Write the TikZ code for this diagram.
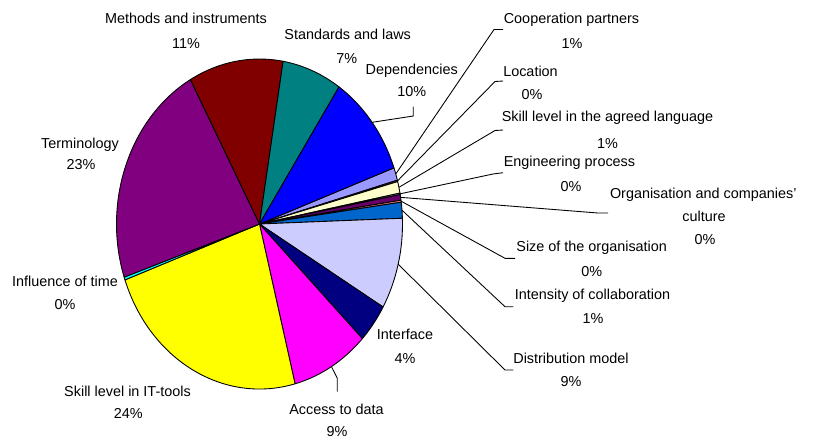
\documentclass[tikz,border=0pt]{standalone}
\usepackage{fontspec}
\setmainfont{Liberation Sans}
\definecolor{cpart}{HTML}{9999FF}
\definecolor{locat}{HTML}{993366}
\definecolor{lang}{HTML}{FFFFCC}
\definecolor{engin}{HTML}{CCFFFF}
\definecolor{cult}{HTML}{660066}
\definecolor{orgsize}{HTML}{FF8080}
\definecolor{inten}{HTML}{0066CC}
\definecolor{distr}{HTML}{CCCCFF}
\definecolor{iface}{HTML}{000080}
\definecolor{access}{HTML}{FF00FF}
\definecolor{ittools}{HTML}{FFFF00}
\definecolor{infl}{HTML}{00FFFF}
\definecolor{termin}{HTML}{800080}
\definecolor{methods}{HTML}{800000}
\definecolor{stand}{HTML}{008080}
\definecolor{depend}{HTML}{0000FF}
\begin{document}
\begin{tikzpicture}[x=0.02cm, y=-0.02cm,
    slice/.style={draw=black, line width=0.5pt, line join=round},
    leader/.style={draw=black, line width=0.5pt},
    lbl/.style={anchor=base, inner sep=0pt, font=\fontsize{8.2}{10}\selectfont}]
    \useasboundingbox (0,0) rectangle (814,441);
    % pie, slices clockwise from the first series
    \begin{scope}[shift={(259.5,224)}, yscale=-1]
        \filldraw[slice, fill=cpart] (0,0) -- (19.9:143 and 165) arc[start angle=19.9, end angle=15.4, x radius=143, y radius=165] -- cycle;
        \filldraw[slice, fill=locat] (0,0) -- (15.4:143 and 165) arc[start angle=15.4, end angle=14.9, x radius=143, y radius=165] -- cycle;
        \filldraw[slice, fill=lang] (0,0) -- (14.9:143 and 165) arc[start angle=14.9, end angle=10.8, x radius=143, y radius=165] -- cycle;
        \filldraw[slice, fill=engin] (0,0) -- (10.8:143 and 165) arc[start angle=10.8, end angle=10.3, x radius=143, y radius=165] -- cycle;
        \filldraw[slice, fill=cult] (0,0) -- (10.3:143 and 165) arc[start angle=10.3, end angle=8.3, x radius=143, y radius=165] -- cycle;
        \filldraw[slice, fill=orgsize] (0,0) -- (8.3:143 and 165) arc[start angle=8.3, end angle=7.6, x radius=143, y radius=165] -- cycle;
        \filldraw[slice, fill=inten] (0,0) -- (7.6:143 and 165) arc[start angle=7.6, end angle=2, x radius=143, y radius=165] -- cycle;
        \filldraw[slice, fill=distr] (0,0) -- (2:143 and 165) arc[start angle=2, end angle=-30.2, x radius=143, y radius=165] -- cycle;
        \filldraw[slice, fill=iface] (0,0) -- (-30.2:143 and 165) arc[start angle=-30.2, end angle=-44, x radius=143, y radius=165] -- cycle;
        \filldraw[slice, fill=access] (0,0) -- (-44:143 and 165) arc[start angle=-44, end angle=-75.6, x radius=143, y radius=165] -- cycle;
        \filldraw[slice, fill=ittools] (0,0) -- (-75.6:143 and 165) arc[start angle=-75.6, end angle=-160.2, x radius=143, y radius=165] -- cycle;
        \filldraw[slice, fill=infl] (0,0) -- (-160.2:143 and 165) arc[start angle=-160.2, end angle=-161.2, x radius=143, y radius=165] -- cycle;
        \filldraw[slice, fill=termin] (0,0) -- (-161.2:143 and 165) arc[start angle=-161.2, end angle=-241.1, x radius=143, y radius=165] -- cycle;
        \filldraw[slice, fill=methods] (0,0) -- (-241.1:143 and 165) arc[start angle=-241.1, end angle=-279.5, x radius=143, y radius=165] -- cycle;
        \filldraw[slice, fill=stand] (0,0) -- (-279.5:143 and 165) arc[start angle=-279.5, end angle=-303.8, x radius=143, y radius=165] -- cycle;
        \filldraw[slice, fill=depend] (0,0) -- (-303.8:143 and 165) arc[start angle=-303.8, end angle=-340.1, x radius=143, y radius=165] -- cycle;
        % leader ends on the rim
        \coordinate (coop-rim) at (17.65:143 and 165);
        \coordinate (loc-rim) at (15.15:143 and 165);
        \coordinate (lang-rim) at (12.85:143 and 165);
        \coordinate (eng-rim) at (10.55:143 and 165);
        \coordinate (cult-rim) at (9.3:143 and 165);
        \coordinate (size-rim) at (7.95:143 and 165);
        \coordinate (inten-rim) at (4.8:143 and 165);
        \coordinate (distr-rim) at (-14.1:143 and 165);
        \coordinate (acc-rim) at (-59.8:143 and 165);
        \coordinate (dep-rim) at (38.05:143 and 165);
    \end{scope}

    % labels on the left and below
    \node[lbl] (meth) at (186,23.3) {Methods and instruments};
    \node[lbl] (meth-pct) at (186,48.2) {11\%};
    \node[lbl] (stan) at (347.7,39.8) {Standards and laws};
    \node[lbl] (stan-pct) at (346.7,63.3) {7\%};
    \node[lbl] (dep) at (411.7,74.8) {Dependencies};
    \node[lbl] (dep-pct) at (411.7,96.5) {10\%};
    \node[lbl] (term) at (80,148.2) {Terminology};
    \node[lbl] (term-pct) at (81,169.8) {23\%};
    \node[lbl] (infl) at (65,286.5) {Influence of time};
    \node[lbl] (infl-pct) at (65,309.8) {0\%};
    \node[lbl] (itt) at (127.5,396.5) {Skill level in IT-tools};
    \node[lbl] (itt-pct) at (128.3,418.2) {24\%};
    \node[lbl] (acc) at (336.5,414.8) {Access to data};
    \node[lbl] (acc-pct) at (337,436.5) {9\%};
    \node[lbl] (ifc) at (405,339.8) {Interface};
    \node[lbl] (ifc-pct) at (405,363.2) {4\%};

    % labels on the right
    \node[lbl] (coop) at (571.5,23.2) {Cooperation partners};
    \node[lbl] (coop-pct) at (572,48.2) {1\%};
    \node[lbl] (loc) at (530.5,76.5) {Location};
    \node[lbl] (loc-pct) at (532,99.8) {0\%};
    \node[lbl] (lang) at (607.5,121.5) {Skill level in the agreed language};
    \node[lbl] (lang-pct) at (607.5,148.2) {1\%};
    \node[lbl] (eng) at (569.5,166.5) {Engineering process};
    \node[lbl] (eng-pct) at (571,191.5) {0\%};
    \node[lbl] (cult) at (703.3,198.2) {Organisation and companies'};
    \node[lbl] (cult-b) at (704,221.5) {culture};
    \node[lbl] (cult-pct) at (705,244.8) {0\%};
    \node[lbl] (size) at (591.7,251.5) {Size of the organisation};
    \node[lbl] (size-pct) at (591.7,276.5) {0\%};
    \node[lbl] (inten) at (592.5,299.8) {Intensity of collaboration};
    \node[lbl] (inten-pct) at (593,323.2) {1\%};
    \node[lbl] (distr) at (571,363.2) {Distribution model};
    \node[lbl] (distr-pct) at (571,386.5) {9\%};

    % leader lines
    \draw[leader] (dep-rim) -- (413.3,116) -- (413.3,106.7);
    \draw[leader] (acc-rim) -- (337.3,378.3) -- (337.3,391.7);
    \draw[leader] (coop-rim) -- (494,29.5) -- (503,29.5);
    \draw[leader] (loc-rim) -- (495,81.5) -- (503,81);
    \draw[leader] (lang-rim) -- (495,130.5) -- (503,130);
    \draw[leader] (eng-rim) -- (493,174) -- (503,172.7);
    \draw[leader] (cult-rim) -- (598,213) -- (608,213);
    \draw[leader] (size-rim) -- (505,258.3) -- (515,258.3);
    \draw[leader] (inten-rim) -- (505,306.7) -- (513.3,306.7);
    \draw[leader] (distr-rim) -- (505,370) -- (513.3,370);
\end{tikzpicture}
\end{document}
